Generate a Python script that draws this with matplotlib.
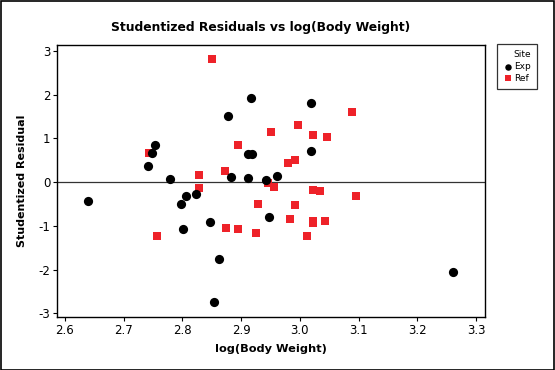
import matplotlib
matplotlib.use("Agg")
import matplotlib.pyplot as plt
from matplotlib.patches import Rectangle

exp_x = [2.639, 2.753, 2.749, 2.742, 2.779, 2.807, 2.798, 2.824, 2.801, 2.847,
         2.862, 2.853, 2.877, 2.917, 2.883, 2.911, 2.919, 2.911, 2.942, 2.961,
         2.947, 3.019, 3.019, 3.260]
exp_y = [-0.44, 0.84, 0.66, 0.38, 0.07, -0.31, -0.50, -0.28, -1.08, -0.90,
         -1.76, -2.73, 1.51, 1.93, 0.12, 0.65, 0.65, 0.10, 0.06, 0.14,
         -0.80, 1.80, 0.71, -2.06]

ref_x = [2.850, 2.744, 2.756, 2.829, 2.829, 2.872, 2.894, 2.875, 2.894, 2.925,
         2.929, 2.951, 2.946, 2.956, 3.089, 2.997, 3.023, 3.047, 2.992, 2.979,
         3.023, 3.035, 3.096, 2.992, 2.984, 3.023, 3.023, 3.043, 3.013]
ref_y = [2.82, 0.66, -1.22, 0.17, -0.13, 0.26, 0.84, -1.04, -1.06, -1.17,
         -0.51, 1.15, -0.03, -0.12, 1.61, 1.30, 1.07, 1.03, 0.50, 0.43,
         -0.18, -0.21, -0.32, -0.53, -0.85, -0.89, -0.94, -0.89, -1.24]

x_ticks = [2.6, 2.7, 2.8, 2.9, 3.0, 3.1, 3.2, 3.3]
y_ticks = [-3, -2, -1, 0, 1, 2, 3]

fig = plt.figure(figsize=(5.55, 3.7), dpi=100)
ax = fig.add_axes([0.1032, 0.1424, 0.7707, 0.7368])

ax.axhline(0, color='#333333', lw=0.9, zorder=1)
h1 = ax.scatter(exp_x, exp_y, s=44, marker='o', color='black', linewidths=0, zorder=3, label='Exp')
h2 = ax.scatter(ref_x, ref_y, s=36, marker='s', color='#ee2229', linewidths=0, zorder=2, label='Ref')

ax.set_xlim(2.587, 3.3153)
ax.set_ylim(-3.09, 3.144)
ax.set_xticks(x_ticks)
ax.set_xticklabels([f"{v:.1f}" for v in x_ticks])
ax.set_yticks(y_ticks)
ax.set_yticklabels([str(v) for v in y_ticks])
ax.tick_params(direction='out', length=3, width=0.8, labelsize=8.5, pad=2, colors='black')
for s in ax.spines.values():
    s.set_linewidth(1.0)
    s.set_color('black')

ax.set_xlabel('log(Body Weight)', fontsize=8.2, fontweight='bold', labelpad=5)
ax.set_ylabel('Studentized Residual', fontsize=8.0, fontweight='bold', labelpad=8)
fig.text(0.469, 0.927, 'Studentized Residuals vs log(Body Weight)', ha='center', va='center',
         fontsize=8.9, fontweight='bold')

leg = fig.legend(handles=[h1, h2], title='Site', loc='upper left',
                 bbox_to_anchor=(497/555, 1 - 44/370), fontsize=6.5, title_fontsize=6.5,
                 frameon=True, fancybox=False, edgecolor='black', handletextpad=0.2,
                 borderpad=0.7, labelspacing=0.3, handlelength=1.0, markerscale=0.7,
                 alignment='right', borderaxespad=0)
leg.get_frame().set_linewidth(0.9)

fig.patches.append(Rectangle((0.001, 0.001), 0.997, 0.997, transform=fig.transFigure,
                             fill=False, edgecolor='black', lw=1.2))

fig.savefig('out.png', dpi=100)
